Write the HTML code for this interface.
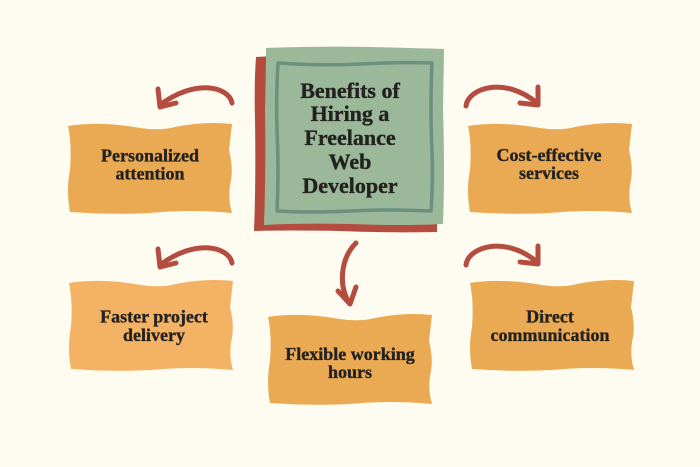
<!DOCTYPE html>
<html>
<head>
<meta charset="utf-8">
<style>
  html,body{margin:0;padding:0;background:#FEFBF0;}
  svg{display:block;}
  text{font-family:"Liberation Serif","DejaVu Serif",serif;font-weight:bold;fill:#242220;stroke:#242220;stroke-width:0.35;}
</style>
</head>
<body>
<svg width="700" height="467" viewBox="0 0 700 467" xmlns="http://www.w3.org/2000/svg">
  <rect x="0" y="0" width="700" height="467" fill="#FEFBF0"/>

  <!-- Center card -->
  <path d="M256,57 Q300,54 350,56 Q400,55 438,57 L437,120 Q438,180 437,232 Q390,233 340,231 Q290,230 254,231 Q256,180 255,120 Q254,85 256,57 Z" fill="#B44C3F"/>
  <path d="M266,48 Q320,46 370,47 Q410,48 444,49 L443,110 Q445,170 443,224 Q400,226 350,224 Q300,223 264,225 Q266,170 265,110 Q266,75 266,48 Z" fill="#9CB89A"/>
  <path d="M278,63 Q320,66 360,64 Q400,62 432,63 Q430,110 432,150 Q433,185 431,211 Q390,209 350,211 Q310,213 277,211 Q279,170 277,130 Q276,95 278,63 Z" fill="none" stroke="#6A9080" stroke-width="3.5" stroke-linejoin="round"/>
  <text x="350" y="98" text-anchor="middle" font-size="22">Benefits of</text>
  <text x="350" y="121" text-anchor="middle" font-size="22">Hiring a</text>
  <text x="350" y="145" text-anchor="middle" font-size="22">Freelance</text>
  <text x="350" y="169" text-anchor="middle" font-size="22">Web</text>
  <text x="350" y="193" text-anchor="middle" font-size="22">Developer</text>

  <!-- Box 1: Personalized attention -->
  <g transform="translate(68,123)">
    <path d="M0,3 Q32,-2 72,5 Q92,8 107,4 Q137,-2 164,1 L161,27 Q166,47 162,62 Q160,77 164,90 Q122,86 82,90 Q42,92 2,89 Q-2,67 2,47 Q4,22 0,3 Z" fill="#E9AA53"/>
  </g>
  <text x="150" y="161.5" text-anchor="middle" font-size="18">Personalized</text>
  <text x="150" y="179.5" text-anchor="middle" font-size="18">attention</text>

  <!-- Box 2: Cost-effective services -->
  <g transform="translate(468,123)">
    <path d="M0,3 Q32,-2 72,5 Q92,8 107,4 Q137,-2 164,1 L161,27 Q166,47 162,62 Q160,77 164,90 Q122,86 82,90 Q42,92 2,89 Q-2,67 2,47 Q4,22 0,3 Z" fill="#E9AA53"/>
  </g>
  <text x="549" y="161" text-anchor="middle" font-size="18">Cost-effective</text>
  <text x="549" y="179" text-anchor="middle" font-size="18">services</text>

  <!-- Box 3: Faster project delivery -->
  <g transform="translate(69,280)">
    <path d="M0,3 Q32,-2 72,5 Q92,8 107,4 Q137,-2 164,1 L161,27 Q166,47 162,62 Q160,77 164,90 Q122,86 82,90 Q42,92 2,89 Q-2,67 2,47 Q4,22 0,3 Z" fill="#F3B264"/>
  </g>
  <text x="154" y="322.5" text-anchor="middle" font-size="18">Faster project</text>
  <text x="154" y="341" text-anchor="middle" font-size="18">delivery</text>

  <!-- Box 4: Direct communication -->
  <g transform="translate(470,280)">
    <path d="M0,3 Q32,-2 72,5 Q92,8 107,4 Q137,-2 164,1 L161,27 Q166,47 162,62 Q160,77 164,90 Q122,86 82,90 Q42,92 2,89 Q-2,67 2,47 Q4,22 0,3 Z" fill="#E9AA53"/>
  </g>
  <text x="550" y="322.5" text-anchor="middle" font-size="18">Direct</text>
  <text x="550" y="341" text-anchor="middle" font-size="18">communication</text>

  <!-- Box 5: Flexible working hours -->
  <g transform="translate(268,314)">
    <path d="M0,3 Q32,-2 72,5 Q92,8 107,4 Q137,-2 164,1 L161,27 Q166,47 162,62 Q160,77 164,90 Q122,86 82,90 Q42,92 2,89 Q-2,67 2,47 Q4,22 0,3 Z" fill="#E9AA53"/>
  </g>
  <text x="350" y="360" text-anchor="middle" font-size="18">Flexible working</text>
  <text x="350" y="378" text-anchor="middle" font-size="18">hours</text>

  <!-- Arrows -->
  <g fill="none" stroke="#B44C3F" stroke-width="5" stroke-linecap="round" stroke-linejoin="round">
    <!-- arrow 1 -->
    <path d="M232,103 C229,87 196,78 160,105"/>
    <path d="M158,89 L160,107 L176,103"/>
    <!-- arrow 2 -->
    <path d="M466,106 C468,88 505,76 537,103"/>
    <path d="M538,87 L538,105 L520,103"/>
    <!-- arrow 3 -->
    <path d="M232,263 C229,247 196,238 160,265"/>
    <path d="M158,249 L160,267 L176,263"/>
    <!-- arrow 4 -->
    <path d="M466,265 C468,247 505,235 537,262"/>
    <path d="M538,246 L538,264 L520,262"/>
    <!-- arrow 5 -->
    <path d="M356,243 C341,258 338,284 349,303"/>
    <path d="M338,291 L350,304 L356,287"/>
  </g>
</svg>
</body>
</html>
